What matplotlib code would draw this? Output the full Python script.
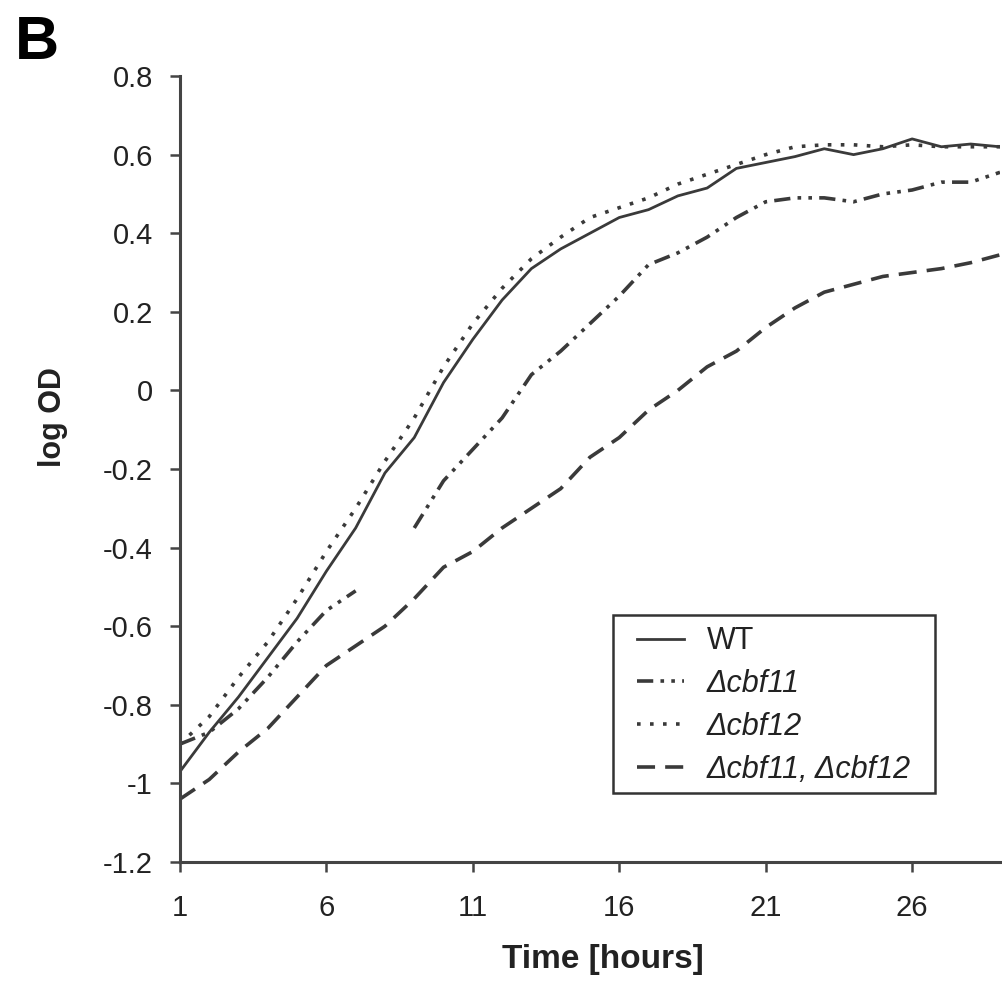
import numpy as np
import matplotlib
matplotlib.use('Agg')
from matplotlib import pyplot as plt
from matplotlib.patches import Rectangle

plt.rcParams['font.family'] = ['Liberation Sans', 'DejaVu Sans']

# time points (hours)
hours = list(range(1, 30))

wt = [-0.97, -0.87, -0.78, -0.68, -0.58, -0.46, -0.35, -0.21, -0.12, 0.02,
      0.13, 0.23, 0.31, 0.36, 0.40, 0.44, 0.46, 0.495, 0.515, 0.565,
      0.58, 0.595, 0.615, 0.60, 0.615, 0.64, 0.62, 0.627, 0.62]

cbf11 = [-0.90, -0.87, -0.81, -0.73, -0.64, -0.56, -0.51, np.nan, -0.35, -0.23,
         -0.15, -0.07, 0.04, 0.10, 0.17, 0.24, 0.32, 0.35, 0.39, 0.44,
         0.48, 0.49, 0.49, 0.48, 0.50, 0.51, 0.53, 0.53, 0.555]

cbf12 = [-0.90, -0.83, -0.73, -0.64, -0.53, -0.41, -0.30, -0.18, -0.07, 0.06,
         0.17, 0.26, 0.335, 0.39, 0.44, 0.465, 0.49, 0.525, 0.55, 0.575,
         0.60, 0.62, 0.625, 0.625, 0.62, 0.625, 0.62, 0.62, 0.62]

double_ko = [-1.04, -0.99, -0.92, -0.86, -0.78, -0.70, -0.65, -0.60, -0.53, -0.45,
             -0.41, -0.35, -0.30, -0.25, -0.17, -0.12, -0.05, 0.0, 0.06, 0.10,
             0.16, 0.21, 0.25, 0.27, 0.29, 0.30, 0.31, 0.325, 0.345]

x_ticks = [1, 6, 11, 16, 21, 26]
y_ticks = [0.8, 0.6, 0.4, 0.2, 0, -0.2, -0.4, -0.6, -0.8, -1, -1.2]
y_ticklabels = ['0.8', '0.6', '0.4', '0.2', '0', '-0.2', '-0.4', '-0.6', '-0.8', '-1', '-1.2']

line_col = '#3a3a3a'
axis_col = '#444444'
text_col = '#222222'

fig = plt.figure(figsize=(10.02, 9.85), dpi=100)
ax = fig.add_axes([0.1796, 0.1249, 0.8184, 0.7979])

ax.plot(hours, wt, linestyle='solid', color=line_col, lw=2.0, label='WT')
ax.plot(hours, cbf11, linestyle=(0, (4.5, 2, 1, 2, 1, 2)), color=line_col, lw=2.6, label='\u0394cbf11')
ax.plot(hours, cbf12, linestyle=(0, (1, 2.6)), color=line_col, lw=2.6, label='\u0394cbf12')
ax.plot(hours, double_ko, linestyle=(0, (5, 2.8)), color=line_col, lw=2.6, label='\u0394cbf11, \u0394cbf12')

ax.set_xlim(1, 29)
ax.set_ylim(-1.2, 0.8)
ax.set_xticks(x_ticks)
ax.set_yticks(y_ticks)
ax.set_yticklabels(y_ticklabels)

for side in ['top', 'right']:
    ax.spines[side].set_visible(False)
for side in ['left', 'bottom']:
    ax.spines[side].set_color(axis_col)
    ax.spines[side].set_linewidth(2.2)

ax.tick_params(axis='both', colors=axis_col, labelcolor=text_col, labelsize=21, width=1.8)
ax.tick_params(axis='x', direction='out', length=7, pad=16)
ax.tick_params(axis='y', direction='out', length=7, pad=12.5)

ax.set_xlabel('Time [hours]', fontsize=24, fontweight='bold', color=text_col)
ax.set_ylabel('log OD', fontsize=22, fontweight='bold', color=text_col)
ax.xaxis.set_label_coords(0.516, -0.104)
ax.yaxis.set_label_coords(-0.137, 0.566)

# legend box is wider than matplotlib's own padding allows, so draw the frame separately
frame = Rectangle((0.528, 0.0878), 0.3927, 0.2265, transform=ax.transAxes,
                  facecolor='white', edgecolor='#333333', lw=1.8, zorder=4.9, clip_on=False)
ax.add_patch(frame)

leg = ax.legend(loc='center', bbox_to_anchor=(0.7244, 0.199), fontsize=22,
                frameon=False, handlelength=1.55, labelspacing=0.42, borderpad=0,
                borderaxespad=0, handletextpad=0.75)
for t in leg.get_texts():
    t.set_color(text_col)
for t in leg.get_texts()[1:]:
    t.set_style('italic')

fig.text(0.015, 0.940, 'B', fontsize=44, fontweight='bold', ha='left', va='baseline')

plt.savefig('out.png', dpi=100)
